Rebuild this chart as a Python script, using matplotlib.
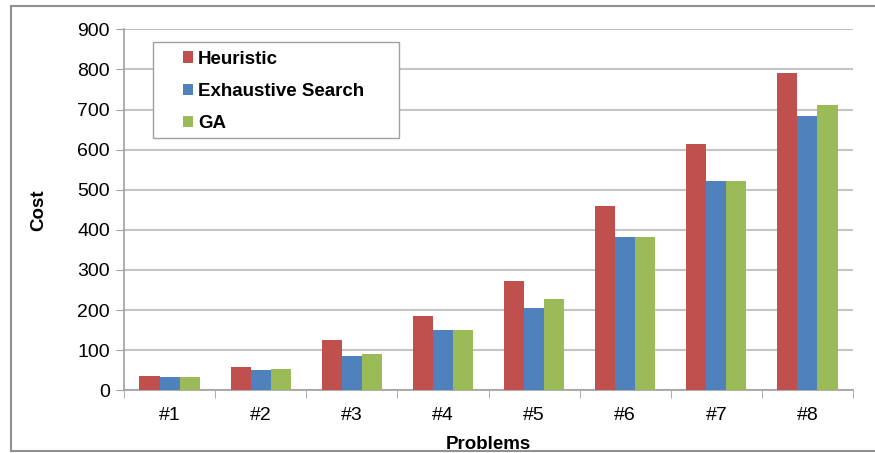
import matplotlib.pyplot as plt
import numpy as np
from matplotlib.lines import Line2D
from matplotlib.patches import Rectangle

problems = ["#1", "#2", "#3", "#4", "#5", "#6", "#7", "#8"]
heuristic = [36, 58, 126, 184, 272, 460, 614, 792]
exhaustive = [33, 51, 86, 150, 206, 383, 521, 685]
ga = [33, 54, 91, 150, 227, 383, 521, 712]
series_names = ["Heuristic", "Exhaustive Search", "GA"]

plt.rcParams['font.family'] = ['Liberation Sans', 'DejaVu Sans']

colors = ["#C0504D", "#4F81BD", "#9BBB59"]
W, H = 875, 453
fig = plt.figure(figsize=(W / 100, H / 100), dpi=100)
ax = fig.add_axes([124 / W, (H - 390.3) / H, (853 - 124) / W, (390.3 - 29.3) / H])

x = np.arange(len(problems))
bw = 0.22
for i, (vals, name) in enumerate(zip([heuristic, exhaustive, ga], series_names)):
    ax.bar(x + (i - 1) * bw, vals, bw, color=colors[i], label=name, zorder=3)

ax.set_xlim(-0.5, len(problems) - 0.5)
ax.set_ylim(0, 900)
ax.set_yticks(range(0, 901, 100))
ax.yaxis.grid(True, color="#C4C4C4", linewidth=1.5, zorder=0)
ax.set_axisbelow(True)

ax.set_xticks(x)
ax.set_xticklabels(problems)
ax.set_xticks(np.arange(-0.5, len(problems)), minor=True)
ax.tick_params(axis='x', which='major', length=0, labelsize=14, pad=12)
ax.tick_params(axis='x', which='minor', length=6, color="#A0A0A0", direction='out')
ax.tick_params(axis='y', length=6, color="#A0A0A0", labelsize=14, pad=4)

for s in ['top', 'right']:
    ax.spines[s].set_visible(False)
for s in ['left', 'bottom']:
    ax.spines[s].set_color("#A0A0A0")
    ax.spines[s].set_linewidth(1.2)

ax.set_xlabel("Problems", fontsize=13.5, fontweight='bold', labelpad=9)
ax.set_ylabel("Cost", fontsize=13.5, fontweight='bold', labelpad=22)

# legend box drawn separately (wide side padding like the original)
fig.add_artist(Rectangle((152.7 / W, 1 - 138.3 / H), (398.7 - 152.7) / W, (138.3 - 41.7) / H,
                         transform=fig.transFigure, facecolor='white', edgecolor="#A0A0A0",
                         linewidth=1.0, zorder=4))
leg = fig.legend(loc='upper left', bbox_to_anchor=(183 / W, 1 - 50.5 / H),
                 prop={'weight': 'bold', 'size': 13.5}, frameon=False,
                 handlelength=0.55, handleheight=0.55, handletextpad=0.25,
                 labelspacing=0.82, borderpad=0, borderaxespad=0)
leg.set_zorder(5)

# outer chart border
border = dict(color="#909090", linewidth=1.5, transform=fig.transFigure)
fig.add_artist(Line2D([11 / W, 11 / W], [1 - 6 / H, 1 - 451 / H], **border))
fig.add_artist(Line2D([11 / W, 1], [1 - 6 / H, 1 - 6 / H], **border))
fig.add_artist(Line2D([11 / W, 1], [1 - 451 / H, 1 - 451 / H], **border))

fig.savefig("out.png", dpi=100)
